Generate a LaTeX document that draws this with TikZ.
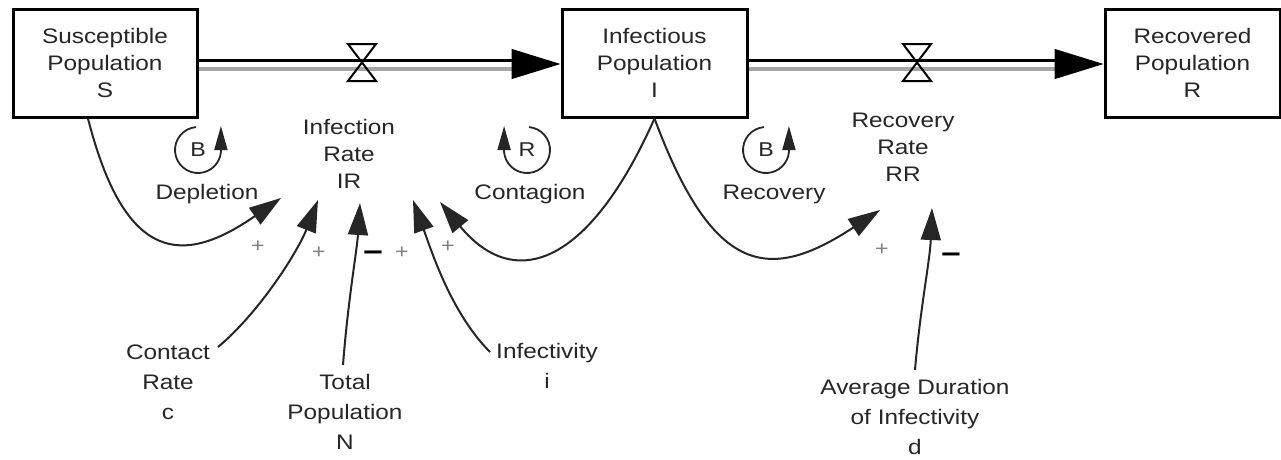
\documentclass[tikz,border=0pt]{standalone}
\usepackage{fontspec}
\setmainfont[FakeStretch=1.16]{Liberation Sans}
\usetikzlibrary{arrows.meta}
\begin{document}
\begin{tikzpicture}[x=1pt,y=1pt,
  every node/.style={text=black!85, font=\fontsize{21}{27}\selectfont},
  stock/.style={draw=black, line width=3pt, minimum height=108pt, align=center, inner sep=0pt},
  lbl/.style={align=center, inner sep=0pt},
  lblwide/.style={align=center, inner sep=0pt, font=\fontsize{21}{30}\selectfont},
  looplbl/.style={inner sep=0pt},
  loopletter/.style={inner sep=0pt, font=\fontsize{20}{20}\selectfont},
  link/.style={draw=black!85, line width=2pt, -{Triangle[length=32pt,width=20pt]}},
  plus/.style={text=black!50, font=\fontsize{20}{20}\selectfont, inner sep=0pt},
  minus/.style={text=black, font=\bfseries\fontsize{30}{30}\selectfont, inner sep=0pt},
  loopline/.style={draw=black!85, line width=1.8pt, -{Triangle[length=24pt,width=13pt]}},
  valve/.style={draw=black, line width=2pt, line join=miter},
  pipeb/.style={draw=black, line width=3pt},
  pipeg/.style={draw=black!35, line width=4pt},
  flowtip/.style={draw=black, line width=1pt, -{Triangle[length=49pt,width=30pt]}}
]
\useasboundingbox (0,0) rectangle (1281,-459);
\fill[white] (0,0) rectangle (1281,-459);

% stocks
\node[stock, minimum width=184pt] (S) at (105,-63) {Susceptible\\Population\\S};
\node[stock, minimum width=185pt] (I) at (654.5,-63) {Infectious\\Population\\I};
\node[stock, minimum width=175pt] (R) at (1192.5,-63) {Recovered\\Population\\R};

% flow 1
\draw[pipeb] ([yshift=3pt]S.east) -- ([yshift=3pt,xshift=-45pt]I.west);
\draw[pipeg] ([yshift=-6pt]S.east) -- ([yshift=-6pt,xshift=-45pt]I.west);
\draw[flowtip] ([yshift=-1pt,xshift=-48pt]I.west) -- ([yshift=-1pt]I.west);
\coordinate (v1) at (362,-63);
\draw[valve] ([shift={(-14,19)}]v1) -- ([shift={(14,19)}]v1) -- ([shift={(-14,-18)}]v1) -- ([shift={(14,-18)}]v1) -- cycle;

% flow 2
\draw[pipeb] ([yshift=3pt]I.east) -- ([yshift=3pt,xshift=-45pt]R.west);
\draw[pipeg] ([yshift=-6pt]I.east) -- ([yshift=-6pt,xshift=-45pt]R.west);
\draw[flowtip] ([yshift=-1pt,xshift=-48pt]R.west) -- ([yshift=-1pt]R.west);
\coordinate (v2) at (917,-63);
\draw[valve] ([shift={(-14,19)}]v2) -- ([shift={(14,19)}]v2) -- ([shift={(-14,-18)}]v2) -- ([shift={(14,-18)}]v2) -- cycle;

% rate and auxiliary labels
\node[lbl] (IR) at (349,-154) {Infection\\Rate\\IR};
\node[lbl] (RR) at (903,-147) {Recovery\\Rate\\RR};
\node[lblwide] (c) at (168,-382) {Contact\\Rate\\c};
\node[lblwide] (N) at (345,-412) {Total\\Population\\N};
\node[lblwide] (inf) at (547,-366) {Infectivity\\i};
\node[lblwide] (d) at (915,-417) {Average Duration\\of Infectivity\\d};

% loops
\node[loopletter] (B1) at (198,-150) {B};
\node[loopletter] (R1) at (527,-150) {R};
\node[loopletter] (B2) at (766,-150) {B};
\node[looplbl] (dep) at (207,-194) {Depletion};
\node[looplbl] (con) at (530,-194) {Contagion};
\node[looplbl] (rec) at (774,-194) {Recovery};
\draw[loopline] ([shift={(95:23)}]B1.center) arc[start angle=95, end angle=355, radius=23] -- ++(0,26);
\draw[loopline] ([shift={(85:23)}]R1.center) arc[start angle=85, end angle=-175, radius=23] -- ++(0,26);
\draw[loopline] ([shift={(95:23)}]B2.center) arc[start angle=95, end angle=355, radius=23] -- ++(0,26);

% links
\draw[link] ([xshift=-17pt]S.south) .. controls +(37,-145) and +(-98,-68) .. ([shift={(-68,-44)}]IR.center);
\draw[link] ([shift={(50,35)}]c.center) .. controls +(42,35) and +(-20,-51) .. ([shift={(-31,-46)}]IR.center);
\draw[link] ([shift={(-2,47)}]N.center) .. controls +(5,65) and +(-3,-47) .. ([shift={(11,-49)}]IR.center);
\draw[link] ([shift={(-57,14)}]inf.center) .. controls +(-38.5,38.5) and +(18.7,-51.7) .. ([shift={(64,-46)}]IR.center);
\draw[link] (I.south) .. controls +(-64,-144) and +(76,-92) .. ([shift={(91,-48)}]IR.center);
\draw[link] (I.south) .. controls +(59.5,-160) and +(-109,-71.5) .. ([shift={(-23,-63)}]RR.center);
\draw[link] ([shift={(0,47)}]d.center) .. controls +(5,60) and +(-2,-52) .. ([shift={(29,-61)}]RR.center);

% polarities
\node[plus] (p1) at (258,-247) {+};
\node[plus] (p2) at (319,-253) {+};
\node[plus] (p3) at (402,-253) {+};
\node[plus] (p4) at (448,-247) {+};
\node[plus] (p5) at (882,-250) {+};
\node[minus] (m1) at (373,-256) {–};
\node[minus] (m2) at (951,-258) {–};
\end{tikzpicture}
\end{document}
